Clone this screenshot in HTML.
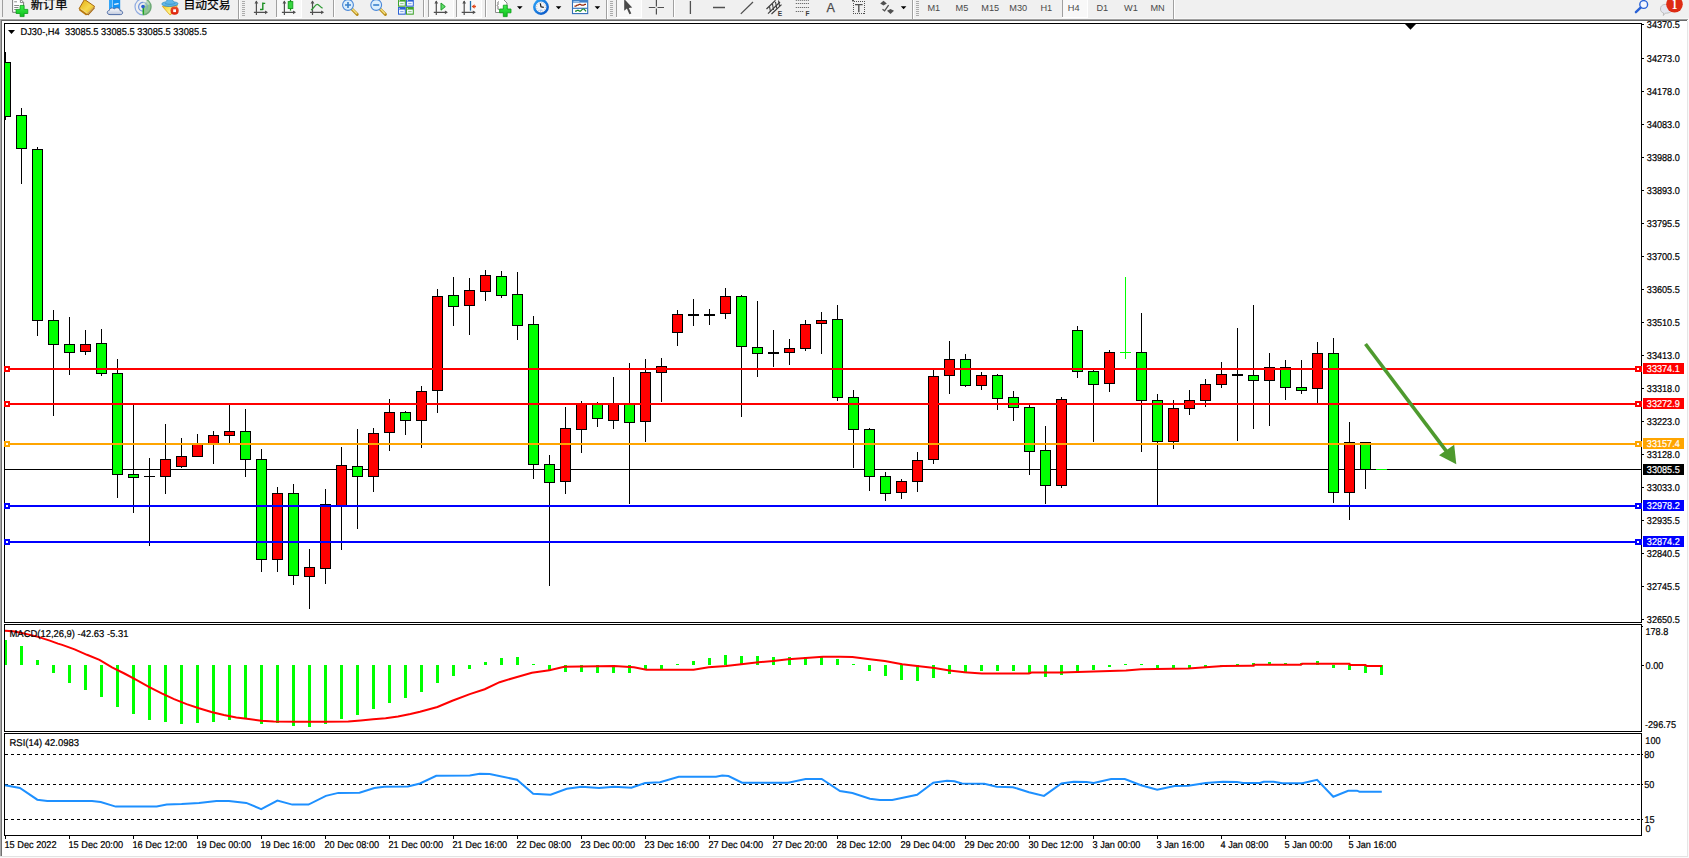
<!DOCTYPE html><html><head><meta charset="utf-8"><title>DJ30-,H4</title><style>html,body{margin:0;padding:0;background:#fff;overflow:hidden}body{width:1689px;height:858px;position:relative}</style></head><body><svg width="1689" height="858" viewBox="0 0 1689 858" style="position:absolute;left:0;top:0" font-family="'Liberation Sans','Noto Sans CJK SC',sans-serif">
<g shape-rendering="crispEdges">
<rect x="0" y="0" width="1689" height="858" fill="#FFFFFF" />
<rect x="0" y="0" width="1689" height="19" fill="#F0F0F0" />
<rect x="0" y="18" width="1689" height="1" fill="#F7F7F7" />
<rect x="0" y="19" width="1688" height="1" fill="#A0A0A0" />
<rect x="0" y="20" width="1687" height="1" fill="#696969" />
<rect x="0" y="19" width="1" height="838" fill="#A8A8A8" />
<rect x="1" y="20" width="1" height="836" fill="#707070" />
<rect x="0" y="856" width="1688" height="1" fill="#E3E3E3" />
<rect x="0" y="857" width="1689" height="1" fill="#FAFAFA" />
<rect x="1687" y="21" width="1" height="835" fill="#E6E6E6" />
<rect x="1688" y="19" width="1" height="839" fill="#FAFAFA" />
<rect x="5" y="469" width="1636" height="1" fill="#000" />
<rect x="4" y="23" width="1638" height="1" fill="#000" />
<rect x="4" y="622" width="1638" height="1" fill="#000" />
<rect x="4" y="23" width="1" height="600" fill="#000" />
<rect x="1641" y="23" width="1" height="600" fill="#000" />
<rect x="4" y="624" width="1638" height="1" fill="#000" />
<rect x="4" y="731" width="1638" height="1" fill="#000" />
<rect x="4" y="624" width="1" height="108" fill="#000" />
<rect x="1641" y="624" width="1" height="108" fill="#000" />
<rect x="4" y="733" width="1638" height="1" fill="#000" />
<rect x="4" y="835" width="1638" height="1" fill="#000" />
<rect x="4" y="733" width="1" height="103" fill="#000" />
<rect x="1641" y="733" width="1" height="103" fill="#000" />
</g>
<polygon points="1405,24 1416,24 1410.5,29.8" fill="#000"/>
<polygon points="8,30 15,30 11.5,34" fill="#000"/>
<defs><clipPath id="cp"><rect x="5" y="24" width="1636" height="811"/></clipPath></defs>
<g shape-rendering="crispEdges" clip-path="url(#cp)">
<rect x="5" y="52" width="1" height="68" fill="#000" />
<rect x="0" y="62" width="11" height="55" fill="#000" />
<rect x="1" y="63" width="9" height="53" fill="#00FF00" />
<rect x="21" y="108" width="1" height="76" fill="#000" />
<rect x="16" y="115" width="11" height="34" fill="#000" />
<rect x="17" y="116" width="9" height="32" fill="#00FF00" />
<rect x="37" y="147" width="1" height="189" fill="#000" />
<rect x="32" y="149" width="11" height="172" fill="#000" />
<rect x="33" y="150" width="9" height="170" fill="#00FF00" />
<rect x="53" y="310" width="1" height="106" fill="#000" />
<rect x="48" y="320" width="11" height="25" fill="#000" />
<rect x="49" y="321" width="9" height="23" fill="#00FF00" />
<rect x="69" y="317" width="1" height="58" fill="#000" />
<rect x="64" y="344" width="11" height="9" fill="#000" />
<rect x="65" y="345" width="9" height="7" fill="#00FF00" />
<rect x="85" y="330" width="1" height="25" fill="#000" />
<rect x="80" y="344" width="11" height="8" fill="#000" />
<rect x="81" y="345" width="9" height="6" fill="#FF0000" />
<rect x="101" y="329" width="1" height="47" fill="#000" />
<rect x="96" y="343" width="11" height="31" fill="#000" />
<rect x="97" y="344" width="9" height="29" fill="#00FF00" />
<rect x="117" y="359" width="1" height="139" fill="#000" />
<rect x="112" y="373" width="11" height="102" fill="#000" />
<rect x="113" y="374" width="9" height="100" fill="#00FF00" />
<rect x="133" y="405" width="1" height="108" fill="#000" />
<rect x="128" y="474" width="11" height="4" fill="#000" />
<rect x="129" y="475" width="9" height="2" fill="#00FF00" />
<rect x="149" y="458" width="1" height="88" fill="#000" />
<rect x="144" y="476" width="11" height="1" fill="#000" />
<rect x="165" y="424" width="1" height="70" fill="#000" />
<rect x="160" y="459" width="11" height="18" fill="#000" />
<rect x="161" y="460" width="9" height="16" fill="#FF0000" />
<rect x="181" y="438" width="1" height="30" fill="#000" />
<rect x="176" y="456" width="11" height="11" fill="#000" />
<rect x="177" y="457" width="9" height="9" fill="#FF0000" />
<rect x="197" y="434" width="1" height="23" fill="#000" />
<rect x="192" y="444" width="11" height="13" fill="#000" />
<rect x="193" y="445" width="9" height="11" fill="#FF0000" />
<rect x="213" y="431" width="1" height="33" fill="#000" />
<rect x="208" y="435" width="11" height="9" fill="#000" />
<rect x="209" y="436" width="9" height="7" fill="#FF0000" />
<rect x="229" y="405" width="1" height="38" fill="#000" />
<rect x="224" y="431" width="11" height="5" fill="#000" />
<rect x="225" y="432" width="9" height="3" fill="#FF0000" />
<rect x="245" y="409" width="1" height="68" fill="#000" />
<rect x="240" y="431" width="11" height="29" fill="#000" />
<rect x="241" y="432" width="9" height="27" fill="#00FF00" />
<rect x="261" y="449" width="1" height="123" fill="#000" />
<rect x="256" y="459" width="11" height="101" fill="#000" />
<rect x="257" y="460" width="9" height="99" fill="#00FF00" />
<rect x="277" y="487" width="1" height="85" fill="#000" />
<rect x="272" y="493" width="11" height="67" fill="#000" />
<rect x="273" y="494" width="9" height="65" fill="#FF0000" />
<rect x="293" y="484" width="1" height="101" fill="#000" />
<rect x="288" y="493" width="11" height="83" fill="#000" />
<rect x="289" y="494" width="9" height="81" fill="#00FF00" />
<rect x="309" y="549" width="1" height="60" fill="#000" />
<rect x="304" y="567" width="11" height="10" fill="#000" />
<rect x="305" y="568" width="9" height="8" fill="#FF0000" />
<rect x="325" y="489" width="1" height="95" fill="#000" />
<rect x="320" y="504" width="11" height="65" fill="#000" />
<rect x="321" y="505" width="9" height="63" fill="#FF0000" />
<rect x="341" y="447" width="1" height="103" fill="#000" />
<rect x="336" y="465" width="11" height="41" fill="#000" />
<rect x="337" y="466" width="9" height="39" fill="#FF0000" />
<rect x="357" y="429" width="1" height="100" fill="#000" />
<rect x="352" y="466" width="11" height="11" fill="#000" />
<rect x="353" y="467" width="9" height="9" fill="#00FF00" />
<rect x="373" y="428" width="1" height="64" fill="#000" />
<rect x="368" y="433" width="11" height="44" fill="#000" />
<rect x="369" y="434" width="9" height="42" fill="#FF0000" />
<rect x="389" y="399" width="1" height="52" fill="#000" />
<rect x="384" y="412" width="11" height="21" fill="#000" />
<rect x="385" y="413" width="9" height="19" fill="#FF0000" />
<rect x="405" y="411" width="1" height="24" fill="#000" />
<rect x="400" y="412" width="11" height="9" fill="#000" />
<rect x="401" y="413" width="9" height="7" fill="#00FF00" />
<rect x="421" y="386" width="1" height="62" fill="#000" />
<rect x="416" y="391" width="11" height="30" fill="#000" />
<rect x="417" y="392" width="9" height="28" fill="#FF0000" />
<rect x="437" y="289" width="1" height="124" fill="#000" />
<rect x="432" y="296" width="11" height="95" fill="#000" />
<rect x="433" y="297" width="9" height="93" fill="#FF0000" />
<rect x="453" y="277" width="1" height="49" fill="#000" />
<rect x="448" y="295" width="11" height="12" fill="#000" />
<rect x="449" y="296" width="9" height="10" fill="#00FF00" />
<rect x="469" y="278" width="1" height="57" fill="#000" />
<rect x="464" y="290" width="11" height="16" fill="#000" />
<rect x="465" y="291" width="9" height="14" fill="#FF0000" />
<rect x="485" y="270" width="1" height="31" fill="#000" />
<rect x="480" y="275" width="11" height="17" fill="#000" />
<rect x="481" y="276" width="9" height="15" fill="#FF0000" />
<rect x="501" y="271" width="1" height="27" fill="#000" />
<rect x="496" y="276" width="11" height="20" fill="#000" />
<rect x="497" y="277" width="9" height="18" fill="#00FF00" />
<rect x="517" y="272" width="1" height="68" fill="#000" />
<rect x="512" y="294" width="11" height="32" fill="#000" />
<rect x="513" y="295" width="9" height="30" fill="#00FF00" />
<rect x="533" y="316" width="1" height="163" fill="#000" />
<rect x="528" y="324" width="11" height="141" fill="#000" />
<rect x="529" y="325" width="9" height="139" fill="#00FF00" />
<rect x="549" y="455" width="1" height="131" fill="#000" />
<rect x="544" y="464" width="11" height="19" fill="#000" />
<rect x="545" y="465" width="9" height="17" fill="#00FF00" />
<rect x="565" y="407" width="1" height="87" fill="#000" />
<rect x="560" y="428" width="11" height="54" fill="#000" />
<rect x="561" y="429" width="9" height="52" fill="#FF0000" />
<rect x="581" y="401" width="1" height="52" fill="#000" />
<rect x="576" y="403" width="11" height="27" fill="#000" />
<rect x="577" y="404" width="9" height="25" fill="#FF0000" />
<rect x="597" y="402" width="1" height="25" fill="#000" />
<rect x="592" y="404" width="11" height="15" fill="#000" />
<rect x="593" y="405" width="9" height="13" fill="#00FF00" />
<rect x="613" y="377" width="1" height="52" fill="#000" />
<rect x="608" y="404" width="11" height="17" fill="#000" />
<rect x="609" y="405" width="9" height="15" fill="#FF0000" />
<rect x="629" y="363" width="1" height="141" fill="#000" />
<rect x="624" y="404" width="11" height="19" fill="#000" />
<rect x="625" y="405" width="9" height="17" fill="#00FF00" />
<rect x="645" y="359" width="1" height="83" fill="#000" />
<rect x="640" y="372" width="11" height="50" fill="#000" />
<rect x="641" y="373" width="9" height="48" fill="#FF0000" />
<rect x="661" y="358" width="1" height="44" fill="#000" />
<rect x="656" y="366" width="11" height="7" fill="#000" />
<rect x="657" y="367" width="9" height="5" fill="#FF0000" />
<rect x="677" y="310" width="1" height="36" fill="#000" />
<rect x="672" y="314" width="11" height="19" fill="#000" />
<rect x="673" y="315" width="9" height="17" fill="#FF0000" />
<rect x="693" y="299" width="1" height="27" fill="#000" />
<rect x="688" y="314" width="11" height="2" fill="#000" />
<rect x="709" y="309" width="1" height="16" fill="#000" />
<rect x="704" y="314" width="11" height="2" fill="#000" />
<rect x="725" y="288" width="1" height="31" fill="#000" />
<rect x="720" y="296" width="11" height="18" fill="#000" />
<rect x="721" y="297" width="9" height="16" fill="#FF0000" />
<rect x="741" y="295" width="1" height="122" fill="#000" />
<rect x="736" y="296" width="11" height="51" fill="#000" />
<rect x="737" y="297" width="9" height="49" fill="#00FF00" />
<rect x="757" y="301" width="1" height="76" fill="#000" />
<rect x="752" y="347" width="11" height="7" fill="#000" />
<rect x="753" y="348" width="9" height="5" fill="#00FF00" />
<rect x="773" y="330" width="1" height="37" fill="#000" />
<rect x="768" y="352" width="11" height="2" fill="#000" />
<rect x="789" y="339" width="1" height="26" fill="#000" />
<rect x="784" y="348" width="11" height="5" fill="#000" />
<rect x="785" y="349" width="9" height="3" fill="#FF0000" />
<rect x="805" y="320" width="1" height="31" fill="#000" />
<rect x="800" y="324" width="11" height="25" fill="#000" />
<rect x="801" y="325" width="9" height="23" fill="#FF0000" />
<rect x="821" y="312" width="1" height="42" fill="#000" />
<rect x="816" y="320" width="11" height="4" fill="#000" />
<rect x="817" y="321" width="9" height="2" fill="#FF0000" />
<rect x="837" y="305" width="1" height="96" fill="#000" />
<rect x="832" y="319" width="11" height="79" fill="#000" />
<rect x="833" y="320" width="9" height="77" fill="#00FF00" />
<rect x="853" y="390" width="1" height="78" fill="#000" />
<rect x="848" y="397" width="11" height="33" fill="#000" />
<rect x="849" y="398" width="9" height="31" fill="#00FF00" />
<rect x="869" y="428" width="1" height="63" fill="#000" />
<rect x="864" y="429" width="11" height="48" fill="#000" />
<rect x="865" y="430" width="9" height="46" fill="#00FF00" />
<rect x="885" y="472" width="1" height="29" fill="#000" />
<rect x="880" y="476" width="11" height="18" fill="#000" />
<rect x="881" y="477" width="9" height="16" fill="#00FF00" />
<rect x="901" y="479" width="1" height="20" fill="#000" />
<rect x="896" y="481" width="11" height="12" fill="#000" />
<rect x="897" y="482" width="9" height="10" fill="#FF0000" />
<rect x="917" y="452" width="1" height="40" fill="#000" />
<rect x="912" y="460" width="11" height="22" fill="#000" />
<rect x="913" y="461" width="9" height="20" fill="#FF0000" />
<rect x="933" y="370" width="1" height="94" fill="#000" />
<rect x="928" y="376" width="11" height="84" fill="#000" />
<rect x="929" y="377" width="9" height="82" fill="#FF0000" />
<rect x="949" y="341" width="1" height="53" fill="#000" />
<rect x="944" y="359" width="11" height="17" fill="#000" />
<rect x="945" y="360" width="9" height="15" fill="#FF0000" />
<rect x="965" y="354" width="1" height="33" fill="#000" />
<rect x="960" y="359" width="11" height="27" fill="#000" />
<rect x="961" y="360" width="9" height="25" fill="#00FF00" />
<rect x="981" y="372" width="1" height="18" fill="#000" />
<rect x="976" y="375" width="11" height="11" fill="#000" />
<rect x="977" y="376" width="9" height="9" fill="#FF0000" />
<rect x="997" y="374" width="1" height="36" fill="#000" />
<rect x="992" y="375" width="11" height="24" fill="#000" />
<rect x="993" y="376" width="9" height="22" fill="#00FF00" />
<rect x="1013" y="391" width="1" height="30" fill="#000" />
<rect x="1008" y="397" width="11" height="11" fill="#000" />
<rect x="1009" y="398" width="9" height="9" fill="#00FF00" />
<rect x="1029" y="405" width="1" height="70" fill="#000" />
<rect x="1024" y="407" width="11" height="45" fill="#000" />
<rect x="1025" y="408" width="9" height="43" fill="#00FF00" />
<rect x="1045" y="426" width="1" height="78" fill="#000" />
<rect x="1040" y="450" width="11" height="36" fill="#000" />
<rect x="1041" y="451" width="9" height="34" fill="#00FF00" />
<rect x="1061" y="397" width="1" height="91" fill="#000" />
<rect x="1056" y="399" width="11" height="87" fill="#000" />
<rect x="1057" y="400" width="9" height="85" fill="#FF0000" />
<rect x="1077" y="326" width="1" height="52" fill="#000" />
<rect x="1072" y="330" width="11" height="42" fill="#000" />
<rect x="1073" y="331" width="9" height="40" fill="#00FF00" />
<rect x="1093" y="370" width="1" height="72" fill="#000" />
<rect x="1088" y="371" width="11" height="14" fill="#000" />
<rect x="1089" y="372" width="9" height="12" fill="#00FF00" />
<rect x="1109" y="350" width="1" height="42" fill="#000" />
<rect x="1104" y="352" width="11" height="32" fill="#000" />
<rect x="1105" y="353" width="9" height="30" fill="#FF0000" />
<rect x="1141" y="313" width="1" height="139" fill="#000" />
<rect x="1136" y="352" width="11" height="49" fill="#000" />
<rect x="1137" y="353" width="9" height="47" fill="#00FF00" />
<rect x="1157" y="394" width="1" height="111" fill="#000" />
<rect x="1152" y="400" width="11" height="42" fill="#000" />
<rect x="1153" y="401" width="9" height="40" fill="#00FF00" />
<rect x="1173" y="400" width="1" height="49" fill="#000" />
<rect x="1168" y="408" width="11" height="34" fill="#000" />
<rect x="1169" y="409" width="9" height="32" fill="#FF0000" />
<rect x="1189" y="390" width="1" height="25" fill="#000" />
<rect x="1184" y="400" width="11" height="9" fill="#000" />
<rect x="1185" y="401" width="9" height="7" fill="#FF0000" />
<rect x="1205" y="379" width="1" height="28" fill="#000" />
<rect x="1200" y="384" width="11" height="17" fill="#000" />
<rect x="1201" y="385" width="9" height="15" fill="#FF0000" />
<rect x="1221" y="362" width="1" height="26" fill="#000" />
<rect x="1216" y="374" width="11" height="11" fill="#000" />
<rect x="1217" y="375" width="9" height="9" fill="#FF0000" />
<rect x="1237" y="328" width="1" height="113" fill="#000" />
<rect x="1232" y="374" width="11" height="2" fill="#000" />
<rect x="1253" y="305" width="1" height="124" fill="#000" />
<rect x="1248" y="375" width="11" height="6" fill="#000" />
<rect x="1249" y="376" width="9" height="4" fill="#00FF00" />
<rect x="1269" y="353" width="1" height="73" fill="#000" />
<rect x="1264" y="367" width="11" height="14" fill="#000" />
<rect x="1265" y="368" width="9" height="12" fill="#FF0000" />
<rect x="1285" y="360" width="1" height="40" fill="#000" />
<rect x="1280" y="367" width="11" height="21" fill="#000" />
<rect x="1281" y="368" width="9" height="19" fill="#00FF00" />
<rect x="1301" y="360" width="1" height="34" fill="#000" />
<rect x="1296" y="387" width="11" height="4" fill="#000" />
<rect x="1297" y="388" width="9" height="2" fill="#00FF00" />
<rect x="1317" y="342" width="1" height="61" fill="#000" />
<rect x="1312" y="353" width="11" height="36" fill="#000" />
<rect x="1313" y="354" width="9" height="34" fill="#FF0000" />
<rect x="1333" y="338" width="1" height="165" fill="#000" />
<rect x="1328" y="353" width="11" height="140" fill="#000" />
<rect x="1329" y="354" width="9" height="138" fill="#00FF00" />
<rect x="1349" y="422" width="1" height="98" fill="#000" />
<rect x="1344" y="442" width="11" height="51" fill="#000" />
<rect x="1345" y="443" width="9" height="49" fill="#FF0000" />
<rect x="1365" y="442" width="1" height="47" fill="#000" />
<rect x="1360" y="442" width="11" height="28" fill="#000" />
<rect x="1361" y="443" width="9" height="26" fill="#00FF00" />
<rect x="1125" y="277" width="1" height="82" fill="#00FF00" />
<rect x="1120" y="352" width="11" height="1" fill="#00FF00" />
<rect x="1376" y="469" width="11" height="1" fill="#00FF00" />
</g><g shape-rendering="crispEdges">
<rect x="5" y="368" width="1636" height="2" fill="#FF0000" />
<rect x="4" y="366" width="6" height="6" fill="#FF0000" />
<rect x="6" y="368" width="2" height="2" fill="#FFF" />
<rect x="1635" y="366" width="7" height="6" fill="#FF0000" />
<rect x="1637" y="368" width="2" height="2" fill="#FFF" />
<rect x="5" y="403" width="1636" height="2" fill="#FF0000" />
<rect x="4" y="401" width="6" height="6" fill="#FF0000" />
<rect x="6" y="403" width="2" height="2" fill="#FFF" />
<rect x="1635" y="401" width="7" height="6" fill="#FF0000" />
<rect x="1637" y="403" width="2" height="2" fill="#FFF" />
<rect x="5" y="443" width="1636" height="2" fill="#FFA500" />
<rect x="4" y="441" width="6" height="6" fill="#FFA500" />
<rect x="6" y="443" width="2" height="2" fill="#FFF" />
<rect x="1635" y="441" width="7" height="6" fill="#FFA500" />
<rect x="1637" y="443" width="2" height="2" fill="#FFF" />
<rect x="5" y="505" width="1636" height="2" fill="#0000FF" />
<rect x="4" y="503" width="6" height="6" fill="#0000FF" />
<rect x="6" y="505" width="2" height="2" fill="#FFF" />
<rect x="1635" y="503" width="7" height="6" fill="#0000FF" />
<rect x="1637" y="505" width="2" height="2" fill="#FFF" />
<rect x="5" y="541" width="1636" height="2" fill="#0000FF" />
<rect x="4" y="539" width="6" height="6" fill="#0000FF" />
<rect x="6" y="541" width="2" height="2" fill="#FFF" />
<rect x="1635" y="539" width="7" height="6" fill="#0000FF" />
<rect x="1637" y="541" width="2" height="2" fill="#FFF" />
</g>
<line x1="1365.5" y1="344" x2="1448" y2="453.3" stroke="#4E9A2E" stroke-width="3.6"/>
<polygon points="1456.3,464.3 1439,455.3 1454.2,444.8" fill="#4E9A2E"/>
<g shape-rendering="crispEdges">
<rect x="1642" y="24" width="2" height="1" fill="#000" />
<rect x="1642" y="58" width="2" height="1" fill="#000" />
<rect x="1642" y="91" width="2" height="1" fill="#000" />
<rect x="1642" y="124" width="2" height="1" fill="#000" />
<rect x="1642" y="157" width="2" height="1" fill="#000" />
<rect x="1642" y="190" width="2" height="1" fill="#000" />
<rect x="1642" y="223" width="2" height="1" fill="#000" />
<rect x="1642" y="256" width="2" height="1" fill="#000" />
<rect x="1642" y="289" width="2" height="1" fill="#000" />
<rect x="1642" y="322" width="2" height="1" fill="#000" />
<rect x="1642" y="355" width="2" height="1" fill="#000" />
<rect x="1642" y="388" width="2" height="1" fill="#000" />
<rect x="1642" y="421" width="2" height="1" fill="#000" />
<rect x="1642" y="454" width="2" height="1" fill="#000" />
<rect x="1642" y="487" width="2" height="1" fill="#000" />
<rect x="1642" y="520" width="2" height="1" fill="#000" />
<rect x="1642" y="553" width="2" height="1" fill="#000" />
<rect x="1642" y="586" width="2" height="1" fill="#000" />
<rect x="1642" y="619" width="2" height="1" fill="#000" />
<rect x="1642" y="665" width="2" height="1" fill="#000" />
<rect x="1642" y="626" width="1" height="1" fill="#000" />
<rect x="1642" y="754" width="1" height="1" fill="#000" />
<rect x="1642" y="784" width="1" height="1" fill="#000" />
<rect x="1642" y="819" width="1" height="1" fill="#000" />
<rect x="1643" y="363" width="41" height="11" fill="#FF0000" />
<rect x="1643" y="398" width="41" height="11" fill="#FF0000" />
<rect x="1643" y="438" width="41" height="11" fill="#FFA500" />
<rect x="1643" y="464" width="41" height="11" fill="#000" />
<rect x="1643" y="500" width="41" height="11" fill="#0000FF" />
<rect x="1643" y="536" width="41" height="11" fill="#0000FF" />
</g>
<text transform="translate(1646.8,28) scale(0.9242,1)" text-rendering="geometricPrecision" font-size="9.9" fill="#000" stroke="#000" stroke-width="0.2" text-anchor="start" >34370.5</text>
<text transform="translate(1646.8,62) scale(0.9242,1)" text-rendering="geometricPrecision" font-size="9.9" fill="#000" stroke="#000" stroke-width="0.2" text-anchor="start" >34273.0</text>
<text transform="translate(1646.8,95) scale(0.9242,1)" text-rendering="geometricPrecision" font-size="9.9" fill="#000" stroke="#000" stroke-width="0.2" text-anchor="start" >34178.0</text>
<text transform="translate(1646.8,128) scale(0.9242,1)" text-rendering="geometricPrecision" font-size="9.9" fill="#000" stroke="#000" stroke-width="0.2" text-anchor="start" >34083.0</text>
<text transform="translate(1646.8,161) scale(0.9242,1)" text-rendering="geometricPrecision" font-size="9.9" fill="#000" stroke="#000" stroke-width="0.2" text-anchor="start" >33988.0</text>
<text transform="translate(1646.8,194) scale(0.9242,1)" text-rendering="geometricPrecision" font-size="9.9" fill="#000" stroke="#000" stroke-width="0.2" text-anchor="start" >33893.0</text>
<text transform="translate(1646.8,227) scale(0.9242,1)" text-rendering="geometricPrecision" font-size="9.9" fill="#000" stroke="#000" stroke-width="0.2" text-anchor="start" >33795.5</text>
<text transform="translate(1646.8,260) scale(0.9242,1)" text-rendering="geometricPrecision" font-size="9.9" fill="#000" stroke="#000" stroke-width="0.2" text-anchor="start" >33700.5</text>
<text transform="translate(1646.8,293) scale(0.9242,1)" text-rendering="geometricPrecision" font-size="9.9" fill="#000" stroke="#000" stroke-width="0.2" text-anchor="start" >33605.5</text>
<text transform="translate(1646.8,326) scale(0.9242,1)" text-rendering="geometricPrecision" font-size="9.9" fill="#000" stroke="#000" stroke-width="0.2" text-anchor="start" >33510.5</text>
<text transform="translate(1646.8,359) scale(0.9242,1)" text-rendering="geometricPrecision" font-size="9.9" fill="#000" stroke="#000" stroke-width="0.2" text-anchor="start" >33413.0</text>
<text transform="translate(1646.8,392) scale(0.9242,1)" text-rendering="geometricPrecision" font-size="9.9" fill="#000" stroke="#000" stroke-width="0.2" text-anchor="start" >33318.0</text>
<text transform="translate(1646.8,425) scale(0.9242,1)" text-rendering="geometricPrecision" font-size="9.9" fill="#000" stroke="#000" stroke-width="0.2" text-anchor="start" >33223.0</text>
<text transform="translate(1646.8,458) scale(0.9242,1)" text-rendering="geometricPrecision" font-size="9.9" fill="#000" stroke="#000" stroke-width="0.2" text-anchor="start" >33128.0</text>
<text transform="translate(1646.8,491) scale(0.9242,1)" text-rendering="geometricPrecision" font-size="9.9" fill="#000" stroke="#000" stroke-width="0.2" text-anchor="start" >33033.0</text>
<text transform="translate(1646.8,524) scale(0.9242,1)" text-rendering="geometricPrecision" font-size="9.9" fill="#000" stroke="#000" stroke-width="0.2" text-anchor="start" >32935.5</text>
<text transform="translate(1646.8,557) scale(0.9242,1)" text-rendering="geometricPrecision" font-size="9.9" fill="#000" stroke="#000" stroke-width="0.2" text-anchor="start" >32840.5</text>
<text transform="translate(1646.8,590) scale(0.9242,1)" text-rendering="geometricPrecision" font-size="9.9" fill="#000" stroke="#000" stroke-width="0.2" text-anchor="start" >32745.5</text>
<text transform="translate(1646.8,623) scale(0.9242,1)" text-rendering="geometricPrecision" font-size="9.9" fill="#000" stroke="#000" stroke-width="0.2" text-anchor="start" >32650.5</text>
<text transform="translate(1646.8,372) scale(0.9242,1)" text-rendering="geometricPrecision" font-size="9.9" fill="#FFF" stroke="#FFF" stroke-width="0.2" text-anchor="start" >33374.1</text>
<text transform="translate(1646.8,407) scale(0.9242,1)" text-rendering="geometricPrecision" font-size="9.9" fill="#FFF" stroke="#FFF" stroke-width="0.2" text-anchor="start" >33272.9</text>
<text transform="translate(1646.8,447) scale(0.9242,1)" text-rendering="geometricPrecision" font-size="9.9" fill="#FFF" stroke="#FFF" stroke-width="0.2" text-anchor="start" >33157.4</text>
<text transform="translate(1646.8,473) scale(0.9242,1)" text-rendering="geometricPrecision" font-size="9.9" fill="#FFF" stroke="#FFF" stroke-width="0.2" text-anchor="start" >33085.5</text>
<text transform="translate(1646.8,509) scale(0.9242,1)" text-rendering="geometricPrecision" font-size="9.9" fill="#FFF" stroke="#FFF" stroke-width="0.2" text-anchor="start" >32978.2</text>
<text transform="translate(1646.8,545) scale(0.9242,1)" text-rendering="geometricPrecision" font-size="9.9" fill="#FFF" stroke="#FFF" stroke-width="0.2" text-anchor="start" >32874.2</text>
<text transform="translate(1645.4,635) scale(0.9242,1)" text-rendering="geometricPrecision" font-size="9.9" fill="#000" stroke="#000" stroke-width="0.2" text-anchor="start" >178.8</text>
<text transform="translate(1645.6,669) scale(0.9242,1)" text-rendering="geometricPrecision" font-size="9.9" fill="#000" stroke="#000" stroke-width="0.2" text-anchor="start" >0.00</text>
<text transform="translate(1645,728) scale(0.9242,1)" text-rendering="geometricPrecision" font-size="9.9" fill="#000" stroke="#000" stroke-width="0.2" text-anchor="start" >-296.75</text>
<text transform="translate(1645.3,744.1) scale(0.9242,1)" text-rendering="geometricPrecision" font-size="9.9" fill="#000" stroke="#000" stroke-width="0.2" text-anchor="start" >100</text>
<text transform="translate(1644.2,758.1) scale(0.9242,1)" text-rendering="geometricPrecision" font-size="9.9" fill="#000" stroke="#000" stroke-width="0.2" text-anchor="start" >80</text>
<text transform="translate(1644.2,788.2) scale(0.9242,1)" text-rendering="geometricPrecision" font-size="9.9" fill="#000" stroke="#000" stroke-width="0.2" text-anchor="start" >50</text>
<text transform="translate(1644.4,822.9) scale(0.9242,1)" text-rendering="geometricPrecision" font-size="9.9" fill="#000" stroke="#000" stroke-width="0.2" text-anchor="start" >15</text>
<text transform="translate(1645.6,832.2) scale(0.9242,1)" text-rendering="geometricPrecision" font-size="9.9" fill="#000" stroke="#000" stroke-width="0.2" text-anchor="start" >0</text>
<g shape-rendering="crispEdges" clip-path="url(#cp)">
<rect x="4" y="640" width="3" height="25" fill="#00FF00" />
<rect x="20" y="646" width="3" height="19" fill="#00FF00" />
<rect x="36" y="660" width="3" height="5" fill="#00FF00" />
<rect x="52" y="665" width="3" height="8" fill="#00FF00" />
<rect x="68" y="665" width="3" height="18" fill="#00FF00" />
<rect x="84" y="665" width="3" height="25" fill="#00FF00" />
<rect x="100" y="665" width="3" height="32" fill="#00FF00" />
<rect x="116" y="665" width="3" height="42" fill="#00FF00" />
<rect x="132" y="665" width="3" height="49" fill="#00FF00" />
<rect x="148" y="665" width="3" height="55" fill="#00FF00" />
<rect x="164" y="665" width="3" height="57" fill="#00FF00" />
<rect x="180" y="665" width="3" height="59" fill="#00FF00" />
<rect x="196" y="665" width="3" height="58" fill="#00FF00" />
<rect x="212" y="665" width="3" height="57" fill="#00FF00" />
<rect x="228" y="665" width="3" height="55" fill="#00FF00" />
<rect x="244" y="665" width="3" height="54" fill="#00FF00" />
<rect x="260" y="665" width="3" height="59" fill="#00FF00" />
<rect x="276" y="665" width="3" height="58" fill="#00FF00" />
<rect x="292" y="665" width="3" height="61" fill="#00FF00" />
<rect x="308" y="665" width="3" height="62" fill="#00FF00" />
<rect x="324" y="665" width="3" height="59" fill="#00FF00" />
<rect x="340" y="665" width="3" height="54" fill="#00FF00" />
<rect x="356" y="665" width="3" height="50" fill="#00FF00" />
<rect x="372" y="665" width="3" height="44" fill="#00FF00" />
<rect x="388" y="665" width="3" height="38" fill="#00FF00" />
<rect x="404" y="665" width="3" height="33" fill="#00FF00" />
<rect x="420" y="665" width="3" height="27" fill="#00FF00" />
<rect x="436" y="665" width="3" height="18" fill="#00FF00" />
<rect x="452" y="665" width="3" height="11" fill="#00FF00" />
<rect x="468" y="665" width="3" height="4" fill="#00FF00" />
<rect x="484" y="662" width="3" height="3" fill="#00FF00" />
<rect x="500" y="658" width="3" height="7" fill="#00FF00" />
<rect x="516" y="657" width="3" height="8" fill="#00FF00" />
<rect x="532" y="664" width="3" height="1" fill="#00FF00" />
<rect x="548" y="665" width="3" height="5" fill="#00FF00" />
<rect x="564" y="665" width="3" height="7" fill="#00FF00" />
<rect x="580" y="665" width="3" height="7" fill="#00FF00" />
<rect x="596" y="665" width="3" height="8" fill="#00FF00" />
<rect x="612" y="665" width="3" height="8" fill="#00FF00" />
<rect x="628" y="665" width="3" height="8" fill="#00FF00" />
<rect x="644" y="665" width="3" height="5" fill="#00FF00" />
<rect x="660" y="665" width="3" height="4" fill="#00FF00" />
<rect x="676" y="664" width="3" height="1" fill="#00FF00" />
<rect x="692" y="661" width="3" height="4" fill="#00FF00" />
<rect x="708" y="658" width="3" height="7" fill="#00FF00" />
<rect x="724" y="655" width="3" height="10" fill="#00FF00" />
<rect x="740" y="656" width="3" height="9" fill="#00FF00" />
<rect x="756" y="656" width="3" height="9" fill="#00FF00" />
<rect x="772" y="657" width="3" height="8" fill="#00FF00" />
<rect x="788" y="657" width="3" height="8" fill="#00FF00" />
<rect x="804" y="657" width="3" height="8" fill="#00FF00" />
<rect x="820" y="656" width="3" height="9" fill="#00FF00" />
<rect x="836" y="659" width="3" height="6" fill="#00FF00" />
<rect x="852" y="664" width="3" height="1" fill="#00FF00" />
<rect x="868" y="665" width="3" height="6" fill="#00FF00" />
<rect x="884" y="665" width="3" height="11" fill="#00FF00" />
<rect x="900" y="665" width="3" height="15" fill="#00FF00" />
<rect x="916" y="665" width="3" height="16" fill="#00FF00" />
<rect x="932" y="665" width="3" height="13" fill="#00FF00" />
<rect x="948" y="665" width="3" height="9" fill="#00FF00" />
<rect x="964" y="665" width="3" height="7" fill="#00FF00" />
<rect x="980" y="665" width="3" height="6" fill="#00FF00" />
<rect x="996" y="665" width="3" height="6" fill="#00FF00" />
<rect x="1012" y="665" width="3" height="6" fill="#00FF00" />
<rect x="1028" y="665" width="3" height="9" fill="#00FF00" />
<rect x="1044" y="665" width="3" height="12" fill="#00FF00" />
<rect x="1060" y="665" width="3" height="10" fill="#00FF00" />
<rect x="1076" y="665" width="3" height="6" fill="#00FF00" />
<rect x="1092" y="665" width="3" height="5" fill="#00FF00" />
<rect x="1108" y="665" width="3" height="2" fill="#00FF00" />
<rect x="1124" y="664" width="3" height="1" fill="#00FF00" />
<rect x="1140" y="664" width="3" height="1" fill="#00FF00" />
<rect x="1156" y="665" width="3" height="4" fill="#00FF00" />
<rect x="1172" y="665" width="3" height="4" fill="#00FF00" />
<rect x="1188" y="665" width="3" height="4" fill="#00FF00" />
<rect x="1204" y="665" width="3" height="3" fill="#00FF00" />
<rect x="1220" y="665" width="3" height="2" fill="#00FF00" />
<rect x="1236" y="664" width="3" height="1" fill="#00FF00" />
<rect x="1252" y="663" width="3" height="2" fill="#00FF00" />
<rect x="1268" y="662" width="3" height="3" fill="#00FF00" />
<rect x="1284" y="663" width="3" height="2" fill="#00FF00" />
<rect x="1300" y="663" width="3" height="2" fill="#00FF00" />
<rect x="1316" y="661" width="3" height="4" fill="#00FF00" />
<rect x="1332" y="665" width="3" height="3" fill="#00FF00" />
<rect x="1348" y="665" width="3" height="5" fill="#00FF00" />
<rect x="1364" y="665" width="3" height="8" fill="#00FF00" />
<rect x="1380" y="665" width="3" height="10" fill="#00FF00" />
</g>
<polyline fill="none" stroke="#FF0000" stroke-width="2" points="5,630.8 13,631.3 20.7,632.8 29,634.6 38.1,636.9 49.8,640.6 58,643.6 62.2,644.9 74.6,649.4 87,654.8 99.5,659.8 112,667.3 124.4,673.5 136.8,680.2 149.3,687.2 161.7,693.4 174.1,699.1 186.6,704.1 199,708.3 211.4,712 223.9,715 236.3,717.5 248.8,719 261.2,720.7 273.6,721.5 298.5,721.7 323.4,721.7 348.3,721.5 360.7,720.5 373.1,719.3 385.6,718.3 398,716.5 410.4,714 420,711.7 437.4,707 452.3,700.8 469.8,694.1 484.7,689.2 499.6,682.2 514.5,677.7 531.9,672.7 549.4,670.2 564.3,666.8 614,666 633.9,667.3 646.4,669.8 693.6,669.8 708.6,667.3 726,666 743.4,664 758.3,662.3 773.2,661 788.2,659.3 805.6,658 823,656.8 840,656.8 852.4,657 869.9,659.3 884.8,661 902.2,664.3 917.1,666 934.5,668 949.5,670.5 964.4,672.2 981.8,673.5 1029,673.5 1031.5,672.5 1061.4,672.5 1093.7,671.5 1126,670.5 1141,669.3 1188.3,668.5 1205.7,667.3 1223,666 1250.4,665.8 1253.7,665.8 1254,664.8 1301,664.8 1302,663.8 1349.5,663.8 1350,665 1365.6,665 1366.4,666 1382,666"/>
<text transform="translate(9.5,637) scale(0.9545,1)" text-rendering="geometricPrecision" font-size="9.9" fill="#000" stroke="#000" stroke-width="0.2" text-anchor="start" >MACD(12,26,9) -42.63 -5.31</text>
<line x1="5" y1="754.5" x2="1641" y2="754.5" stroke="#000" stroke-width="1" stroke-dasharray="3 3" shape-rendering="crispEdges"/>
<line x1="5" y1="784.5" x2="1641" y2="784.5" stroke="#000" stroke-width="1" stroke-dasharray="3 3" shape-rendering="crispEdges"/>
<line x1="5" y1="819.5" x2="1641" y2="819.5" stroke="#000" stroke-width="1" stroke-dasharray="3 3" shape-rendering="crispEdges"/>
<polyline fill="none" stroke="#1E90FF" stroke-width="2" points="5,785.2 19.9,788 37.3,799.7 47.3,800.9 92,800.9 100.7,802.1 115.7,806.6 156.7,806.6 166.7,804.6 181.6,804.1 199,802.9 216.4,800.9 228.9,800.9 246.3,802.9 261.2,809.1 277.4,800.6 292.3,804.6 308.5,804.6 325.9,795.9 338.3,792.9 359.5,792.7 374.4,788 384.3,786.7 408,786.5 420,783.5 436.2,775.8 469.8,775.5 479.7,773.8 489.7,774 517,779.8 533.2,793.7 550.6,794.7 566.8,788.7 581.7,786.7 599.1,788 614,786.7 631.4,787.7 645.1,783 660,782.2 678.7,776.8 716,776.8 722.2,775.5 728.5,776 742.1,782.7 788.2,782.7 805.6,779 821.7,779 840,791 852.4,793 869.9,798.7 879.8,799.9 892.2,799.9 917.1,794.7 933.3,782.7 947,780.7 954.4,781.2 961.9,783.5 984.3,783.7 996.7,786.7 1012.9,787.2 1029,792.2 1044,795.9 1061.4,783.5 1073.8,781.7 1086.3,782 1093.7,783 1111.1,779 1124.8,779 1141,785.2 1157.2,789.7 1174.6,786 1188.3,785.7 1205.7,783 1223,781.7 1236.8,782 1243,783 1260,783 1263.6,781.7 1273.6,781.7 1282.3,783.2 1302.2,783.2 1317.1,779.8 1333.3,796.7 1348.2,790.7 1357,790.7 1359.4,791.7 1381.8,791.7"/>
<text transform="translate(9.5,746) scale(0.9596,1)" text-rendering="geometricPrecision" font-size="9.9" fill="#000" stroke="#000" stroke-width="0.2" text-anchor="start" >RSI(14) 42.0983</text>
<g shape-rendering="crispEdges">
<rect x="5" y="836" width="1" height="3" fill="#000" />
<rect x="69" y="836" width="1" height="3" fill="#000" />
<rect x="133" y="836" width="1" height="3" fill="#000" />
<rect x="197" y="836" width="1" height="3" fill="#000" />
<rect x="261" y="836" width="1" height="3" fill="#000" />
<rect x="325" y="836" width="1" height="3" fill="#000" />
<rect x="389" y="836" width="1" height="3" fill="#000" />
<rect x="453" y="836" width="1" height="3" fill="#000" />
<rect x="517" y="836" width="1" height="3" fill="#000" />
<rect x="581" y="836" width="1" height="3" fill="#000" />
<rect x="645" y="836" width="1" height="3" fill="#000" />
<rect x="709" y="836" width="1" height="3" fill="#000" />
<rect x="773" y="836" width="1" height="3" fill="#000" />
<rect x="837" y="836" width="1" height="3" fill="#000" />
<rect x="901" y="836" width="1" height="3" fill="#000" />
<rect x="965" y="836" width="1" height="3" fill="#000" />
<rect x="1029" y="836" width="1" height="3" fill="#000" />
<rect x="1093" y="836" width="1" height="3" fill="#000" />
<rect x="1157" y="836" width="1" height="3" fill="#000" />
<rect x="1221" y="836" width="1" height="3" fill="#000" />
<rect x="1285" y="836" width="1" height="3" fill="#000" />
<rect x="1349" y="836" width="1" height="3" fill="#000" />
</g>
<text transform="translate(4.5,848) scale(0.9293,1)" text-rendering="geometricPrecision" font-size="9.9" fill="#000" stroke="#000" stroke-width="0.2" text-anchor="start" >15 Dec 2022</text>
<text transform="translate(68.5,848) scale(0.9293,1)" text-rendering="geometricPrecision" font-size="9.9" fill="#000" stroke="#000" stroke-width="0.2" text-anchor="start" >15 Dec 20:00</text>
<text transform="translate(132.5,848) scale(0.9293,1)" text-rendering="geometricPrecision" font-size="9.9" fill="#000" stroke="#000" stroke-width="0.2" text-anchor="start" >16 Dec 12:00</text>
<text transform="translate(196.5,848) scale(0.9293,1)" text-rendering="geometricPrecision" font-size="9.9" fill="#000" stroke="#000" stroke-width="0.2" text-anchor="start" >19 Dec 00:00</text>
<text transform="translate(260.5,848) scale(0.9293,1)" text-rendering="geometricPrecision" font-size="9.9" fill="#000" stroke="#000" stroke-width="0.2" text-anchor="start" >19 Dec 16:00</text>
<text transform="translate(324.5,848) scale(0.9293,1)" text-rendering="geometricPrecision" font-size="9.9" fill="#000" stroke="#000" stroke-width="0.2" text-anchor="start" >20 Dec 08:00</text>
<text transform="translate(388.5,848) scale(0.9293,1)" text-rendering="geometricPrecision" font-size="9.9" fill="#000" stroke="#000" stroke-width="0.2" text-anchor="start" >21 Dec 00:00</text>
<text transform="translate(452.5,848) scale(0.9293,1)" text-rendering="geometricPrecision" font-size="9.9" fill="#000" stroke="#000" stroke-width="0.2" text-anchor="start" >21 Dec 16:00</text>
<text transform="translate(516.5,848) scale(0.9293,1)" text-rendering="geometricPrecision" font-size="9.9" fill="#000" stroke="#000" stroke-width="0.2" text-anchor="start" >22 Dec 08:00</text>
<text transform="translate(580.5,848) scale(0.9293,1)" text-rendering="geometricPrecision" font-size="9.9" fill="#000" stroke="#000" stroke-width="0.2" text-anchor="start" >23 Dec 00:00</text>
<text transform="translate(644.5,848) scale(0.9293,1)" text-rendering="geometricPrecision" font-size="9.9" fill="#000" stroke="#000" stroke-width="0.2" text-anchor="start" >23 Dec 16:00</text>
<text transform="translate(708.5,848) scale(0.9293,1)" text-rendering="geometricPrecision" font-size="9.9" fill="#000" stroke="#000" stroke-width="0.2" text-anchor="start" >27 Dec 04:00</text>
<text transform="translate(772.5,848) scale(0.9293,1)" text-rendering="geometricPrecision" font-size="9.9" fill="#000" stroke="#000" stroke-width="0.2" text-anchor="start" >27 Dec 20:00</text>
<text transform="translate(836.5,848) scale(0.9293,1)" text-rendering="geometricPrecision" font-size="9.9" fill="#000" stroke="#000" stroke-width="0.2" text-anchor="start" >28 Dec 12:00</text>
<text transform="translate(900.5,848) scale(0.9293,1)" text-rendering="geometricPrecision" font-size="9.9" fill="#000" stroke="#000" stroke-width="0.2" text-anchor="start" >29 Dec 04:00</text>
<text transform="translate(964.5,848) scale(0.9293,1)" text-rendering="geometricPrecision" font-size="9.9" fill="#000" stroke="#000" stroke-width="0.2" text-anchor="start" >29 Dec 20:00</text>
<text transform="translate(1028.5,848) scale(0.9293,1)" text-rendering="geometricPrecision" font-size="9.9" fill="#000" stroke="#000" stroke-width="0.2" text-anchor="start" >30 Dec 12:00</text>
<text transform="translate(1092.5,848) scale(0.9293,1)" text-rendering="geometricPrecision" font-size="9.9" fill="#000" stroke="#000" stroke-width="0.2" text-anchor="start" >3 Jan 00:00</text>
<text transform="translate(1156.5,848) scale(0.9293,1)" text-rendering="geometricPrecision" font-size="9.9" fill="#000" stroke="#000" stroke-width="0.2" text-anchor="start" >3 Jan 16:00</text>
<text transform="translate(1220.5,848) scale(0.9293,1)" text-rendering="geometricPrecision" font-size="9.9" fill="#000" stroke="#000" stroke-width="0.2" text-anchor="start" >4 Jan 08:00</text>
<text transform="translate(1284.5,848) scale(0.9293,1)" text-rendering="geometricPrecision" font-size="9.9" fill="#000" stroke="#000" stroke-width="0.2" text-anchor="start" >5 Jan 00:00</text>
<text transform="translate(1348.5,848) scale(0.9293,1)" text-rendering="geometricPrecision" font-size="9.9" fill="#000" stroke="#000" stroke-width="0.2" text-anchor="start" >5 Jan 16:00</text>
<text transform="translate(20.5,35) scale(0.9394,1)" text-rendering="geometricPrecision" font-size="9.9" fill="#000" stroke="#000" stroke-width="0.2" text-anchor="start" >DJ30-,H4</text>
<text transform="translate(65,35) scale(0.9394,1)" text-rendering="geometricPrecision" font-size="9.9" fill="#000" stroke="#000" stroke-width="0.2" text-anchor="start" >33085.5 33085.5 33085.5 33085.5</text>
<defs><linearGradient id="gold" x1="0" y1="0" x2="1" y2="1"><stop offset="0" stop-color="#E2A90C"/><stop offset="0.55" stop-color="#F6D84E"/><stop offset="1" stop-color="#E0A616"/></linearGradient><linearGradient id="cloud" x1="0" y1="0" x2="0" y2="1"><stop offset="0" stop-color="#FFFFFF"/><stop offset="1" stop-color="#BFC8DC"/></linearGradient><linearGradient id="plus" x1="0" y1="0" x2="0" y2="1"><stop offset="0" stop-color="#3CF04A"/><stop offset="1" stop-color="#0FBF1E"/></linearGradient><radialGradient id="rgreen" cx="0.3" cy="0.3" r="0.9"><stop offset="0" stop-color="#F0F0F0" stop-opacity="0"/><stop offset="1" stop-color="#4FA84A"/></radialGradient><linearGradient id="ylw" x1="0" y1="0" x2="1" y2="1"><stop offset="0" stop-color="#F5C518"/><stop offset="0.6" stop-color="#FFF58A"/><stop offset="1" stop-color="#F0B818"/></linearGradient><linearGradient id="redb" x1="0" y1="0" x2="0" y2="1"><stop offset="0" stop-color="#E8502E"/><stop offset="1" stop-color="#DC1E08"/></linearGradient></defs>
<rect x="2" y="0" width="1" height="17" fill="#A0A0A0" shape-rendering="crispEdges"/>
<path d="M12.6 -1H20.4L23.6 2.4V12.3H12.6Z" fill="#FFFFFF" stroke="#7A7A7A" stroke-width="1"/><path d="M20.4 -1V2.6H23.6" fill="none" stroke="#7A7A7A" stroke-width="0.9"/><path d="M14.2 1.8H17M14.2 5.5H19M14.2 7.5H18.5M14.2 9.5H16" stroke="#8A8A8A" stroke-width="1"/>
<path d="M20.1 5.4H24.1V9.4H27.8V13.5H24.1V16.6H20.1V13.5H16.1V9.4H20.1Z" fill="url(#plus)" stroke="#0A9A16" stroke-width="0.8"/>
<text x="30.8" y="9.4" font-size="12.2" fill="#000" stroke="#000" stroke-width="0.25">新订单</text>
<path d="M84.5 -0.6L94.6 6.4L87 14.8L79 8.8Z" fill="url(#gold)" stroke="#A5660F" stroke-width="1"/><path d="M79.6 9.4L86.8 14.6" stroke="#B8780E" stroke-width="2.2"/><path d="M80.6 8.6L87.2 13.2" stroke="#F3D777" stroke-width="1.1"/><path d="M94.4 7.4L87.6 14.8" stroke="#A5660F" stroke-width="1.8"/><path d="M93.8 7.4L87.6 14" stroke="#E9D9A0" stroke-width="0.8"/>
<rect x="109.2" y="-1" width="11" height="10.5" fill="#1492F2"/><path d="M109.2 -1H112.4V9.5H109.2Z" fill="#2FA6FA"/><path d="M112.5 0V9" stroke="#BFE2FF" stroke-width="0.7"/><path d="M114.2 4.4L118.6 3.6" stroke="#FFFFFF" stroke-width="1.2"/>
<path d="M110 14.6C106.6 14.6 106.4 10.8 109.3 10.4C109.6 7.8 113 7.2 114.3 9C116.4 6.6 120.2 8 120 10.6C123.3 10.4 123.6 14.6 120.4 14.6Z" fill="url(#cloud)" stroke="#40609E" stroke-width="0.9"/>
<path d="M143 6.8L147.5 -0.2A8 8 0 0 1 143 14.8Z" fill="#8CC68A" opacity="0.55"/><path d="M143 6.8L150.5 4A8 8 0 0 1 143 14.8Z" fill="#5FB060" opacity="0.45"/>
<g fill="none"><path d="M143 -1.2A8 8 0 0 0 143 14.8" stroke="#6F94DC" stroke-width="1.2" opacity="0.75"/><path d="M143 -1.2A8 8 0 0 1 143 14.8" stroke="#5E9E6A" stroke-width="1.3" opacity="0.8"/><path d="M143 2.4A4.4 4.4 0 0 0 143 11.2" stroke="#5B84D8" stroke-width="1.3" opacity="0.8"/><path d="M143 2.4A4.4 4.4 0 0 1 146.5 9.6" stroke="#7FA5C8" stroke-width="1.2" opacity="0.7"/><path d="M143.3 7V14.6" stroke="#1FA324" stroke-width="1.5"/></g><circle cx="143" cy="6.6" r="1.8" fill="#2A5FD0"/>
<path d="M162.4 6.4L177.4 5.6L171 14.6L169.6 14.6Z" fill="url(#ylw)" stroke="#D8A010" stroke-width="0.8"/>
<path d="M167.2 -1H172.4C172.6 1 173.4 2 175.6 2.2C178.6 2.6 178.6 4.4 176 5.4C172 6.8 167 6.8 163.6 5.6C161 4.6 161.4 2.8 164.4 2.2C166.4 1.8 167 1 167.2 -1Z" fill="#62B6E6" stroke="#2F8CC0" stroke-width="0.8"/><path d="M165 3.6C168 4.6 172 4.6 175.4 3.4" stroke="#2F8CC0" stroke-width="0.7" fill="none"/>
<circle cx="174.6" cy="10.7" r="4.1" fill="url(#redb)"/><rect x="173.2" y="9.3" width="2.8" height="2.8" fill="#FFFFFF"/>
<text x="183.5" y="9.4" font-size="12.2" fill="#000" stroke="#000" stroke-width="0.25" textLength="47" lengthAdjust="spacingAndGlyphs">自动交易</text>
<rect x="238" y="0" width="1" height="19" fill="#A0A0A0" shape-rendering="crispEdges"/><rect x="239" y="0" width="1" height="19" fill="#FFFFFF" shape-rendering="crispEdges"/>
<rect x="242" y="1" width="3" height="1" fill="#ABABAB" shape-rendering="crispEdges"/>
<rect x="242" y="3" width="3" height="1" fill="#ABABAB" shape-rendering="crispEdges"/>
<rect x="242" y="5" width="3" height="1" fill="#ABABAB" shape-rendering="crispEdges"/>
<rect x="242" y="7" width="3" height="1" fill="#ABABAB" shape-rendering="crispEdges"/>
<rect x="242" y="9" width="3" height="1" fill="#ABABAB" shape-rendering="crispEdges"/>
<rect x="242" y="11" width="3" height="1" fill="#ABABAB" shape-rendering="crispEdges"/>
<rect x="242" y="13" width="3" height="1" fill="#ABABAB" shape-rendering="crispEdges"/>
<rect x="242" y="15" width="3" height="1" fill="#ABABAB" shape-rendering="crispEdges"/>
<g stroke="#505050" stroke-width="1.2" fill="none"><path d="M256.4 1V15M253.89999999999998 12.3H266.9"/></g><path d="M254.49999999999997 3.4L256.4 0.4L258.29999999999995 3.4ZM265.0 10.4L268.0 12.3L265.0 14.2Z" fill="#505050"/>
<path d="M262.8 2.6V10M260 9.5H262.8M262.8 3.4H265.2" stroke="#1B8F22" stroke-width="1.4" fill="none"/>
<g shape-rendering="crispEdges"><rect x="276" y="0" width="25" height="17" fill="#F8F8F8"/><rect x="276" y="0" width="1" height="17" fill="#A0A0A0"/><rect x="276" y="17" width="26" height="1" fill="#FFFFFF"/><rect x="301" y="0" width="1" height="17" fill="#FFFFFF"/></g>
<g stroke="#505050" stroke-width="1.2" fill="none"><path d="M284.4 1V15M281.9 12.3H294.9"/></g><path d="M282.5 3.4L284.4 0.4L286.29999999999995 3.4ZM293.0 10.4L296.0 12.3L293.0 14.2Z" fill="#505050"/>
<path d="M290.5 0V10.6" stroke="#1B8F22" stroke-width="1.3"/><rect x="288.2" y="1.6" width="4.6" height="6.9" fill="#35D63E" stroke="#149A1D" stroke-width="0.9"/>
<g stroke="#505050" stroke-width="1.2" fill="none"><path d="M312.5 1V15M310.0 12.3H323.0"/></g><path d="M310.6 3.4L312.5 0.4L314.4 3.4ZM321.1 10.4L324.1 12.3L321.1 14.2Z" fill="#505050"/>
<path d="M311 10C313.5 9 315 4.4 317.3 4.4C319 4.4 320.5 7.6 322.6 8.2" stroke="#2E9A34" stroke-width="1.3" fill="none"/>
<rect x="333" y="0" width="1" height="17" fill="#A0A0A0" shape-rendering="crispEdges"/><rect x="334" y="0" width="1" height="17" fill="#FFFFFF" shape-rendering="crispEdges"/>
<path d="M351.6 8.8L357.2 14.4" stroke="#B88E1A" stroke-width="3" stroke-linecap="round"/><path d="M351.8 8.6L357 13.8" stroke="#F5E07E" stroke-width="1.4"/>
<circle cx="348" cy="5" r="5.4" fill="#DCEEFC" stroke="#4A88D8" stroke-width="1.1"/>
<path d="M345 5H351M348 2V8" stroke="#3A80CC" stroke-width="1.6"/>
<path d="M379.8 8.8L385.4 14.4" stroke="#B88E1A" stroke-width="3" stroke-linecap="round"/><path d="M380.0 8.6L385.2 13.8" stroke="#F5E07E" stroke-width="1.4"/>
<circle cx="376.2" cy="5" r="5.4" fill="#DCEEFC" stroke="#4A88D8" stroke-width="1.1"/>
<path d="M373.2 5H379.2" stroke="#3A80CC" stroke-width="1.6"/>
<rect x="398" y="-1" width="7.8" height="7.7" fill="#3FA32A"/><rect x="399" y="1.6" width="5.8" height="4" fill="#F4F8FF"/><rect x="400.2" y="3.0999999999999996" width="3.4" height="1" fill="#3FA32A" opacity="0.55"/><rect x="398.9" y="0.19999999999999996" width="1" height="1" fill="#fff" opacity="0.8"/>
<rect x="406" y="-1" width="7.8" height="7.7" fill="#2B62D4"/><rect x="407" y="1.6" width="5.8" height="4" fill="#F4F8FF"/><rect x="408.2" y="3.0999999999999996" width="3.4" height="1" fill="#2B62D4" opacity="0.55"/><rect x="406.9" y="0.19999999999999996" width="1" height="1" fill="#fff" opacity="0.8"/>
<rect x="398" y="7" width="7.8" height="7.7" fill="#2B62D4"/><rect x="399" y="9.6" width="5.8" height="4" fill="#F4F8FF"/><rect x="400.2" y="11.1" width="3.4" height="1" fill="#2B62D4" opacity="0.55"/><rect x="398.9" y="8.2" width="1" height="1" fill="#fff" opacity="0.8"/>
<rect x="406" y="7" width="7.8" height="7.7" fill="#3FA32A"/><rect x="407" y="9.6" width="5.8" height="4" fill="#F4F8FF"/><rect x="408.2" y="11.1" width="3.4" height="1" fill="#3FA32A" opacity="0.55"/><rect x="406.9" y="8.2" width="1" height="1" fill="#fff" opacity="0.8"/>
<rect x="423" y="0" width="1" height="17" fill="#A0A0A0" shape-rendering="crispEdges"/><rect x="424" y="0" width="1" height="17" fill="#FFFFFF" shape-rendering="crispEdges"/>
<g shape-rendering="crispEdges"><rect x="428" y="0" width="25" height="17" fill="#F8F8F8"/><rect x="428" y="0" width="1" height="17" fill="#A0A0A0"/><rect x="428" y="17" width="26" height="1" fill="#FFFFFF"/><rect x="453" y="0" width="1" height="17" fill="#FFFFFF"/></g>
<g stroke="#505050" stroke-width="1.2" fill="none"><path d="M436.3 1V15M433.8 12.3H446.8"/></g><path d="M434.40000000000003 3.4L436.3 0.4L438.2 3.4ZM444.90000000000003 10.4L447.90000000000003 12.3L444.90000000000003 14.2Z" fill="#505050"/>
<path d="M441 3L445.3 6.6L441 10.2Z" fill="#5FE06A" stroke="#1E9A28" stroke-width="1"/>
<g shape-rendering="crispEdges"><rect x="456" y="0" width="25" height="17" fill="#F8F8F8"/><rect x="456" y="0" width="1" height="17" fill="#A0A0A0"/><rect x="456" y="17" width="26" height="1" fill="#FFFFFF"/><rect x="481" y="0" width="1" height="17" fill="#FFFFFF"/></g>
<g stroke="#505050" stroke-width="1.2" fill="none"><path d="M464.2 1V15M461.7 12.3H474.7"/></g><path d="M462.3 3.4L464.2 0.4L466.09999999999997 3.4ZM472.8 10.4L475.8 12.3L472.8 14.2Z" fill="#505050"/>
<path d="M470.5 1V10.6" stroke="#1F6FA8" stroke-width="1.3"/><path d="M471.6 6.5L474.6 4.2V5.8H476V7.2H474.6V8.8Z" fill="#E0481A"/>
<rect x="485" y="0" width="1" height="17" fill="#A0A0A0" shape-rendering="crispEdges"/><rect x="486" y="0" width="1" height="17" fill="#FFFFFF" shape-rendering="crispEdges"/>
<path d="M495.5 -1H503L507 3V12.5H495.5Z" fill="#FFFFFF" stroke="#8C8C8C" stroke-width="1"/><path d="M498.5 1.5C497.3 1.8 498.8 5.3 497.2 5.6C498.8 6 497.3 9.4 498.5 9.8" stroke="#555" stroke-width="0.9" fill="none"/>
<path d="M503.3 5.2H507.2V9H511V12.8H507.2V16.6H503.3V12.8H499.6V9H503.3Z" fill="url(#plus)" stroke="#0A9A16" stroke-width="0.8"/>
<polygon points="517,6.2 522.6,6.2 519.8,9.3" fill="#000"/>
<defs><linearGradient id="clk" x1="0" y1="0" x2="1" y2="1"><stop offset="0" stop-color="#2BA2F8"/><stop offset="1" stop-color="#0A55C4"/></linearGradient></defs>
<circle cx="541" cy="7" r="6.7" fill="#F2F4F8" stroke="url(#clk)" stroke-width="2.5"/><path d="M540.3 3.4L541 6.8L543.8 7.4" stroke="#1A1A1A" stroke-width="1.2" fill="none"/><circle cx="541" cy="7" r="4.4" fill="none" stroke="#9A9A9A" stroke-width="0.8" stroke-dasharray="0.7 1.6"/><path d="M539.6 10.2H542.2" stroke="#6FB0F5" stroke-width="0.8"/>
<polygon points="555.8,6.2 561.4,6.2 558.5999999999999,9.3" fill="#000"/>
<rect x="572.5" y="-1" width="15.2" height="14.6" fill="#FFFFFF" stroke="#2F6DB8" stroke-width="1.1"/><rect x="572.5" y="-1" width="15.2" height="3.6" fill="#3F80C8"/><rect x="573.4" y="1" width="6" height="0.9" fill="#A8CCF0"/><rect x="572.5" y="7.7" width="15.2" height="1.2" fill="#3C78C0"/><path d="M574.4 6.2H575.8L577 5.2H578L579.2 4.4H580.4L581.6 5.2H583.6L584.8 4.4H586" stroke="#962808" stroke-width="1.2" fill="none"/><path d="M575 11.2H576.2L577.2 10.4H578.4L579.6 11.2H580.6L582 9.6L583 9H584L585 10.2L586 11.4" stroke="#16882A" stroke-width="1.2" fill="none"/>
<polygon points="594.6,6.2 600.2,6.2 597.4,9.3" fill="#000"/>
<rect x="606" y="0" width="1" height="19" fill="#A0A0A0" shape-rendering="crispEdges"/><rect x="607" y="0" width="1" height="19" fill="#FFFFFF" shape-rendering="crispEdges"/>
<rect x="610" y="1" width="3" height="1" fill="#ABABAB" shape-rendering="crispEdges"/>
<rect x="610" y="3" width="3" height="1" fill="#ABABAB" shape-rendering="crispEdges"/>
<rect x="610" y="5" width="3" height="1" fill="#ABABAB" shape-rendering="crispEdges"/>
<rect x="610" y="7" width="3" height="1" fill="#ABABAB" shape-rendering="crispEdges"/>
<rect x="610" y="9" width="3" height="1" fill="#ABABAB" shape-rendering="crispEdges"/>
<rect x="610" y="11" width="3" height="1" fill="#ABABAB" shape-rendering="crispEdges"/>
<rect x="610" y="13" width="3" height="1" fill="#ABABAB" shape-rendering="crispEdges"/>
<rect x="610" y="15" width="3" height="1" fill="#ABABAB" shape-rendering="crispEdges"/>
<g shape-rendering="crispEdges"><rect x="616" y="0" width="25" height="17" fill="#F8F8F8"/><rect x="616" y="0" width="1" height="17" fill="#A0A0A0"/><rect x="616" y="17" width="26" height="1" fill="#FFFFFF"/><rect x="641" y="0" width="1" height="17" fill="#FFFFFF"/></g>
<path d="M624.2 -1V10.8L626.9 8.4L629.4 14.3L631.3 13.5L628.8 7.9L632.2 7.6Z" fill="#4A4A4A"/>
<path d="M656.4 0V6.4M656.4 8.6V14.6M648.8 7.5H655.3M657.5 7.5H664" stroke="#505050" stroke-width="1.2" fill="none"/>
<rect x="673" y="0" width="1" height="17" fill="#A0A0A0" shape-rendering="crispEdges"/><rect x="674" y="0" width="1" height="17" fill="#FFFFFF" shape-rendering="crispEdges"/>
<path d="M690.4 1V14M713 7.5H725M740.8 13.9L753 2" stroke="#505050" stroke-width="1.3" fill="none"/>
<g stroke="#3E3E3E" stroke-width="1.2" fill="none"><path d="M766.5 9L775.5 0.3M768 13.6L780 2M771.5 14L781.5 4.6"/><path d="M769.5 6.5L770.5 12M772.5 4L773.5 10M775.5 2L776.8 8.6M778.5 0.5L779.5 6" stroke-width="1.1"/></g>
<text x="777.7" y="15.8" font-size="6.6" font-weight="bold" fill="#3C3C3C">E</text>
<line x1="795.8" y1="0.3" x2="808.8" y2="0.3" stroke="#505050" stroke-width="1" stroke-dasharray="1 1"/>
<line x1="795.8" y1="3.5" x2="808.8" y2="3.5" stroke="#505050" stroke-width="1" stroke-dasharray="1 1"/>
<line x1="795.8" y1="7.5" x2="808.8" y2="7.5" stroke="#505050" stroke-width="1" stroke-dasharray="1 1"/>
<line x1="795.8" y1="11.5" x2="804" y2="11.5" stroke="#505050" stroke-width="1" stroke-dasharray="1 1"/>
<text x="805.6" y="15.8" font-size="6.6" font-weight="bold" fill="#3C3C3C">F</text>
<text x="826.6" y="12" font-size="12.6" fill="#4A4A4A" stroke="#4A4A4A" stroke-width="0.25">A</text>
 <rect x="853.5" y="1.5" width="11" height="12" shape-rendering="crispEdges" fill="none" stroke="#505050" stroke-width="1" stroke-dasharray="1 1"/><path d="M855 4.6H862.6M858.8 4.6V12.2" stroke="#505050" stroke-width="1.4" fill="none"/><rect x="852" y="0" width="2" height="1.4" fill="#505050"/>
<path d="M883.5 0.8L886.8 3.6L883.5 5.6L880.2 3.6Z" fill="#505050"/><path d="M890.5 14L887 10.8L890.5 9L894 10.8Z" fill="#505050"/><path d="M882.5 9.2L884.6 10.8L888.6 5.2" stroke="#505050" stroke-width="1.3" fill="none"/>
<polygon points="900.8,6.2 906.4,6.2 903.5999999999999,9.3" fill="#000"/>
<rect x="912" y="0" width="1" height="19" fill="#A0A0A0" shape-rendering="crispEdges"/><rect x="913" y="0" width="1" height="19" fill="#FFFFFF" shape-rendering="crispEdges"/>
<rect x="916" y="1" width="3" height="1" fill="#ABABAB" shape-rendering="crispEdges"/>
<rect x="916" y="3" width="3" height="1" fill="#ABABAB" shape-rendering="crispEdges"/>
<rect x="916" y="5" width="3" height="1" fill="#ABABAB" shape-rendering="crispEdges"/>
<rect x="916" y="7" width="3" height="1" fill="#ABABAB" shape-rendering="crispEdges"/>
<rect x="916" y="9" width="3" height="1" fill="#ABABAB" shape-rendering="crispEdges"/>
<rect x="916" y="11" width="3" height="1" fill="#ABABAB" shape-rendering="crispEdges"/>
<rect x="916" y="13" width="3" height="1" fill="#ABABAB" shape-rendering="crispEdges"/>
<rect x="916" y="15" width="3" height="1" fill="#ABABAB" shape-rendering="crispEdges"/>
<g shape-rendering="crispEdges"><rect x="1062" y="0" width="25" height="17" fill="#F8F8F8"/><rect x="1062" y="0" width="1" height="17" fill="#A0A0A0"/><rect x="1062" y="17" width="26" height="1" fill="#FFFFFF"/><rect x="1087" y="0" width="1" height="17" fill="#FFFFFF"/></g>
<text x="927.4" y="10.8" font-size="9.2" fill="#4A4A4A">M1</text>
<text x="955.6" y="10.8" font-size="9.2" fill="#4A4A4A">M5</text>
<text x="981.3" y="10.8" font-size="9.2" fill="#4A4A4A">M15</text>
<text x="1009.3" y="10.8" font-size="9.2" fill="#4A4A4A">M30</text>
<text x="1040.4" y="10.8" font-size="9.2" fill="#4A4A4A">H1</text>
<text x="1067.8" y="10.8" font-size="9.2" fill="#4A4A4A">H4</text>
<text x="1096.4" y="10.8" font-size="9.2" fill="#4A4A4A">D1</text>
<text x="1124" y="10.8" font-size="9.2" fill="#4A4A4A">W1</text>
<text x="1150.4" y="10.8" font-size="9.2" fill="#4A4A4A">MN</text>
<rect x="1173" y="0" width="1" height="19" fill="#A0A0A0" shape-rendering="crispEdges"/><rect x="1174" y="0" width="1" height="19" fill="#FFFFFF" shape-rendering="crispEdges"/>
<circle cx="1643.7" cy="4.5" r="3.9" fill="#F4F6FF" stroke="#2A62D6" stroke-width="1.4"/><path d="M1640.6 7.6L1635.9 12.2" stroke="#2A62D6" stroke-width="2.4" stroke-linecap="round"/>
<path d="M1660.5 9C1660.5 5.5 1663 4.3 1666.5 4.3C1670 4.3 1672 6 1672 9C1672 12 1669.5 13.2 1665.2 13.2L1663.3 15.6L1663.6 13C1661.5 12.4 1660.5 11 1660.5 9Z" fill="#E3E5EE" stroke="#B8B8B8" stroke-width="0.9"/>
<circle cx="1674.5" cy="4.3" r="8.3" fill="#DE2C14"/><text x="1674.6" y="8.8" font-size="15" font-weight="bold" fill="#FFFFFF" text-anchor="middle" textLength="5.6" lengthAdjust="spacingAndGlyphs" font-family="'Liberation Serif',serif">1</text>
</svg></body></html>
